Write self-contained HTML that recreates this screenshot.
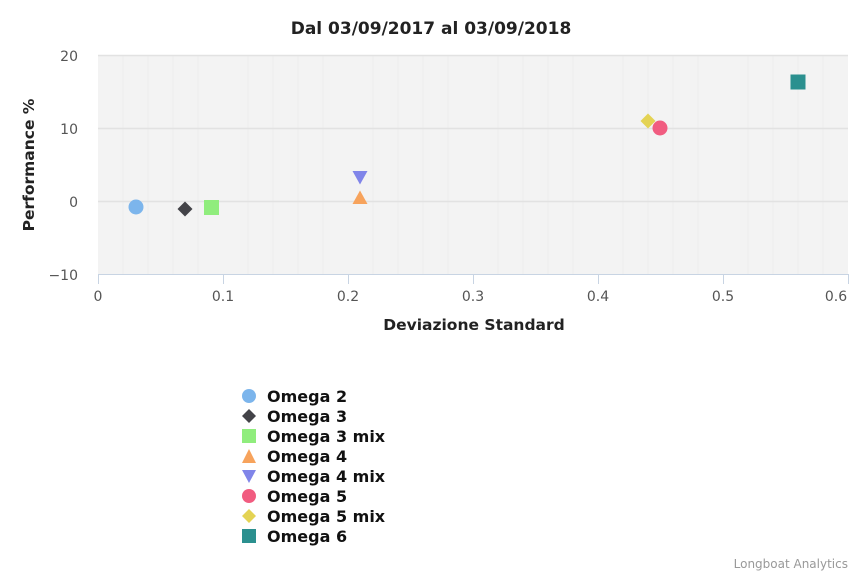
<!DOCTYPE html>
<html><head><meta charset="utf-8"><style>
body{margin:0;background:#fff;}
svg text{font-family:"DejaVu Sans","Liberation Sans",sans-serif;}
</style></head><body>
<svg width="863" height="575" xmlns="http://www.w3.org/2000/svg">
<rect x="0" y="0" width="863" height="575" fill="#fff"/>
<text x="431" y="34" text-anchor="middle" font-size="17" font-weight="bold" fill="#222">Dal 03/09/2017 al 03/09/2018</text>
<rect x="98" y="55" width="750" height="219" fill="#f3f3f3"/>
<g stroke="#ececec" stroke-width="1">
<line x1="123" y1="55" x2="123" y2="274"/><line x1="148" y1="55" x2="148" y2="274"/><line x1="173" y1="55" x2="173" y2="274"/><line x1="198" y1="55" x2="198" y2="274"/>
<line x1="248" y1="55" x2="248" y2="274"/><line x1="273" y1="55" x2="273" y2="274"/><line x1="298" y1="55" x2="298" y2="274"/><line x1="323" y1="55" x2="323" y2="274"/>
<line x1="373" y1="55" x2="373" y2="274"/><line x1="398" y1="55" x2="398" y2="274"/><line x1="423" y1="55" x2="423" y2="274"/><line x1="448" y1="55" x2="448" y2="274"/>
<line x1="498" y1="55" x2="498" y2="274"/><line x1="523" y1="55" x2="523" y2="274"/><line x1="548" y1="55" x2="548" y2="274"/><line x1="573" y1="55" x2="573" y2="274"/>
<line x1="623" y1="55" x2="623" y2="274"/><line x1="648" y1="55" x2="648" y2="274"/><line x1="673" y1="55" x2="673" y2="274"/><line x1="698" y1="55" x2="698" y2="274"/>
<line x1="748" y1="55" x2="748" y2="274"/><line x1="773" y1="55" x2="773" y2="274"/><line x1="798" y1="55" x2="798" y2="274"/><line x1="823" y1="55" x2="823" y2="274"/>
</g>
<g stroke="#e2e2e2" stroke-width="1.5">
<line x1="98" y1="55.5" x2="848" y2="55.5"/><line x1="98" y1="128.5" x2="848" y2="128.5"/><line x1="98" y1="201.5" x2="848" y2="201.5"/>
</g>
<line x1="98" y1="274.5" x2="848" y2="274.5" stroke="#c8d4e3" stroke-width="1"/>
<g stroke="#c8d4e3"><line x1="98.5" y1="274" x2="98.5" y2="284"/><line x1="223.5" y1="274" x2="223.5" y2="284"/><line x1="348.5" y1="274" x2="348.5" y2="284"/><line x1="473.5" y1="274" x2="473.5" y2="284"/><line x1="598.5" y1="274" x2="598.5" y2="284"/><line x1="723.5" y1="274" x2="723.5" y2="284"/><line x1="848.5" y1="274" x2="848.5" y2="284"/></g>
<g font-size="14" fill="#555" text-anchor="middle">
<text x="98" y="301">0</text><text x="223" y="301">0.1</text><text x="348" y="301">0.2</text><text x="473" y="301">0.3</text><text x="598" y="301">0.4</text><text x="723" y="301">0.5</text><text x="836" y="301">0.6</text>
</g>
<g font-size="14" fill="#555" text-anchor="end">
<text x="78" y="61">20</text><text x="78" y="134">10</text><text x="78" y="207">0</text><text x="78" y="280">−10</text>
</g>
<text x="474" y="330" text-anchor="middle" font-size="15.5" font-weight="bold" fill="#222">Deviazione Standard</text>
<text transform="translate(34,165) rotate(-90)" text-anchor="middle" font-size="15.5" font-weight="bold" fill="#222">Performance %</text>
<circle cx="136" cy="207" r="7.5" fill="#7cb5ec"/>
<path d="M185 201.5 L192.5 209 L185 216.5 L177.5 209Z" fill="#434348"/>
<rect x="204" y="200" width="15" height="15" fill="#90ed7d"/>
<path d="M360 190.5 L367.5 204 L352.5 204Z" fill="#f7a35c"/>
<path d="M352.5 171 L367.5 171 L360 184.5Z" fill="#8085e9"/>
<circle cx="660" cy="128" r="7.5" fill="#f15c80"/>
<path d="M648 113.5 L655.5 121 L648 128.5 L640.5 121Z" fill="#e4d354"/>
<rect x="790.5" y="74.5" width="15" height="15" fill="#2b908f"/>
<g font-size="16" font-weight="bold" fill="#111">
<circle cx="249" cy="396" r="7" fill="#7cb5ec"/><text x="267" y="402">Omega 2</text>
<path d="M249 409 L256 416 L249 423 L242 416Z" fill="#434348"/><text x="267" y="422">Omega 3</text>
<rect x="242" y="429" width="14" height="14" fill="#90ed7d"/><text x="267" y="442">Omega 3 mix</text>
<path d="M249 449 L256 463 L242 463Z" fill="#f7a35c"/><text x="267" y="462">Omega 4</text>
<path d="M242 470 L256 470 L249 483Z" fill="#8085e9"/><text x="267" y="482">Omega 4 mix</text>
<circle cx="249" cy="496" r="7" fill="#f15c80"/><text x="267" y="502">Omega 5</text>
<path d="M249 509 L256 516 L249 523 L242 516Z" fill="#e4d354"/><text x="267" y="522">Omega 5 mix</text>
<rect x="242" y="529" width="14" height="14" fill="#2b908f"/><text x="267" y="542">Omega 6</text>
</g>
<text x="848" y="568" text-anchor="end" font-size="12" fill="#999">Longboat Analytics</text>
</svg>
</body></html>
